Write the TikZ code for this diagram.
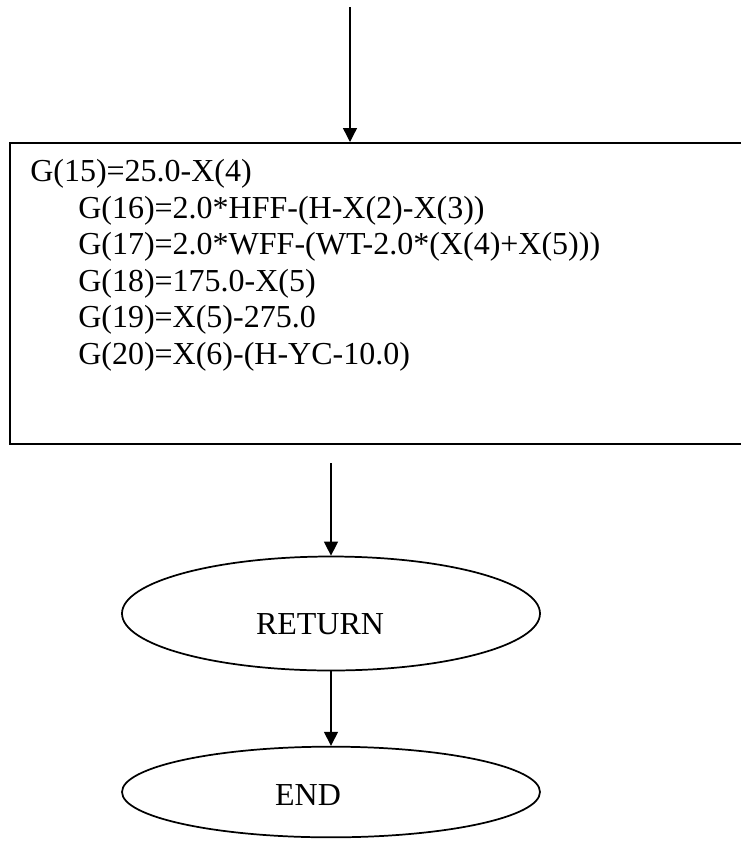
\documentclass[tikz,border=0pt]{standalone}
\usepackage{fontspec}
\setmainfont{Liberation Serif}
\usetikzlibrary{shapes.geometric,arrows.meta}

\begin{document}
\begin{tikzpicture}[x=0.75pt, y=-0.75pt, font=\fontsize{24}{27.4}\selectfont,
  pbox/.style={draw, line width=1.5pt, minimum width=600pt, minimum height=225.75pt, inner sep=0pt},
  term/.style={draw, ellipse, line width=1.3pt, minimum width=313.5pt, inner sep=0pt},
  code/.style={anchor=base west, inner sep=0pt},
  ed/.style={-{Triangle[width=10.5pt,length=10.5pt]}, line width=1pt}]
\useasboundingbox (0,0) rectangle (741,844);
\clip (0,0) rectangle (741,844);
% process box (runs off the right edge)
\node[pbox, anchor=north west] (box) at (9,142) {};
% the statements
\foreach \xo/\t [count=\i] in {30/G(15)=25.0-X(4),
    78/G(16)=2.0*HFF-(H-X(2)-X(3)),
    78/G(17)=2.0*WFF-(WT-2.0*(X(4)+X(5))),
    78/G(18)=175.0-X(5),
    78/G(19)=X(5)-275.0,
    78/G(20)=X(6)-(H-YC-10.0)}
  \node[code] (l\i) at (\xo,{181.5+36.5*(\i-1)}) {\t};
% terminals
\node[term, minimum height=85.5pt,
  label={[xshift=-8.25pt, yshift=-7.9pt]center:RETURN}] (ret) at (331,613.5) {};
\node[term, minimum height=68pt,
  label={[xshift=-17.25pt, yshift=-2.6pt]center:END}] (end) at (331,792) {};
% connectors
\coordinate (in) at (350,7);
\coordinate (gap) at (331,463);
\draw[ed] (in) -- (in |- box.north);
\draw[ed] (gap) -- (ret);
\draw[ed] (ret) -- (end);
\end{tikzpicture}
\end{document}
